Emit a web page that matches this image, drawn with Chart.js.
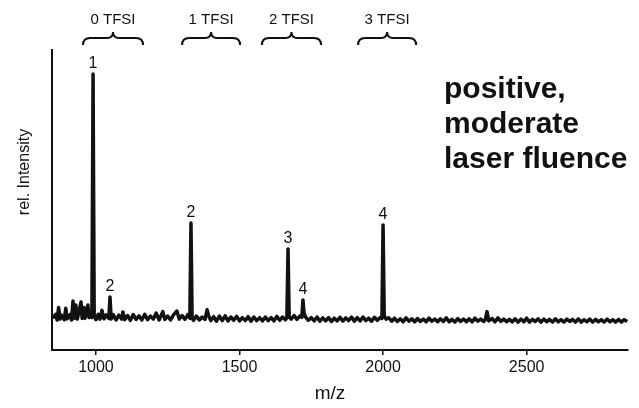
<!DOCTYPE html>
<html lang="en">
<head>
    <meta charset="UTF-8">
    <title>positive, moderate laser fluence</title>
    <script src="https://cdn.jsdelivr.net/npm/chart.js"></script>
    <style>
        body { margin: 0; background: #fff; }
    </style>
</head>
<body>
    <canvas id="msChart" width="639" height="408"></canvas>

    <script>
        // spectrum trace (m/z, rel. intensity)
        const traceMz = [
            850, 860, 865, 870, 875, 880, 890, 895, 900, 910, 915, 920, 925, 930, 935, 940, 948, 952, 958, 962,
            972, 976, 982, 986, 990, 994, 1000, 1008, 1014, 1021, 1028, 1036, 1045, 1049, 1053, 1060, 1070, 1080, 1090, 1094,
            1100, 1110, 1120, 1130, 1140, 1150, 1160, 1170, 1180, 1190, 1200, 1210, 1220, 1233, 1240, 1250, 1260, 1270, 1282, 1290,
            1300, 1310, 1320, 1327, 1331, 1335, 1340, 1350, 1360, 1370, 1380, 1387, 1393, 1400, 1410, 1420, 1430, 1440, 1450, 1460,
            1470, 1480, 1490, 1500, 1510, 1520, 1530, 1540, 1550, 1560, 1570, 1580, 1590, 1600, 1610, 1620, 1630, 1640, 1650, 1660,
            1665, 1669, 1673, 1680, 1690, 1700, 1710, 1717, 1721, 1725, 1730, 1740, 1750, 1760, 1770, 1780, 1790, 1800, 1810, 1820,
            1830, 1840, 1850, 1860, 1870, 1880, 1890, 1900, 1910, 1920, 1930, 1940, 1950, 1960, 1970, 1980, 1990, 1996, 2000, 2004,
            2010, 2020, 2030, 2040, 2050, 2060, 2070, 2080, 2090, 2100, 2110, 2120, 2130, 2140, 2150, 2160, 2170, 2180, 2190, 2200,
            2210, 2220, 2230, 2240, 2250, 2260, 2270, 2280, 2290, 2300, 2310, 2320, 2330, 2340, 2350, 2356, 2362, 2368, 2380, 2390,
            2400, 2410, 2420, 2430, 2440, 2450, 2460, 2470, 2480, 2490, 2500, 2510, 2520, 2530, 2540, 2550, 2560, 2570, 2580, 2590,
            2600, 2610, 2620, 2630, 2640, 2650, 2660, 2670, 2680, 2690, 2700, 2710, 2720, 2730, 2740, 2750, 2760, 2770, 2780, 2790,
            2800, 2810, 2820, 2830, 2840, 2850
        ];
        const traceInt = [
            10.6, 11.9, 10.0, 14.2, 10.3, 11.6, 10.1, 13.9, 10.4, 11.8, 10.0, 16.3, 10.6, 15.0, 10.3, 12.4, 16.0, 10.5, 14.2, 10.6,
            15.0, 10.8, 12.5, 10.8, 92.0, 11.2, 10.1, 11.9, 10.3, 13.2, 10.4, 11.7, 10.5, 17.7, 10.3, 11.8, 10.0, 11.6, 10.3, 12.7,
            10.1, 11.5, 9.9, 11.8, 10.2, 11.4, 10.0, 11.9, 10.1, 11.3, 10.3, 12.3, 10.0, 12.8, 10.2, 11.3, 10.0, 11.7, 13.0, 10.3,
            11.5, 10.2, 11.8, 10.6, 42.3, 10.4, 9.9, 11.3, 10.0, 11.0, 10.2, 13.4, 11.3, 9.8, 11.1, 9.6, 11.3, 9.8, 11.4, 9.7,
            11.0, 9.9, 11.2, 9.7, 10.8, 9.8, 11.1, 9.6, 11.0, 9.8, 10.8, 9.7, 11.0, 9.8, 10.8, 9.7, 11.2, 9.9, 11.0, 10.1,
            10.7, 33.7, 11.0, 10.3, 11.5, 10.2, 11.3, 10.9, 16.7, 12.2, 11.0, 9.9, 10.8, 9.7, 11.0, 9.6, 10.7, 9.7, 10.8, 9.5,
            10.6, 9.7, 10.9, 9.6, 10.7, 9.8, 11.0, 9.6, 10.8, 9.7, 11.0, 9.8, 10.6, 9.6, 10.9, 9.9, 10.8, 10.5, 41.7, 11.6,
            10.3, 10.7, 9.6, 10.6, 9.5, 10.4, 9.4, 10.7, 9.6, 10.4, 9.4, 10.5, 9.5, 10.3, 9.4, 10.6, 9.6, 10.3, 9.4, 10.4,
            9.5, 10.7, 9.4, 10.2, 9.3, 10.5, 9.5, 10.3, 9.4, 10.4, 9.4, 10.6, 9.6, 10.3, 9.5, 10.1, 12.8, 9.7, 10.5, 9.4,
            10.7, 9.5, 10.3, 9.4, 10.2, 9.4, 10.4, 9.3, 10.3, 9.4, 10.6, 9.3, 10.2, 9.5, 10.4, 9.3, 10.3, 9.4, 10.2, 9.3,
            10.4, 9.4, 10.1, 9.3, 10.3, 9.5, 10.2, 9.3, 10.4, 9.3, 10.1, 9.4, 10.3, 9.3, 10.2, 9.4, 10.1, 9.3, 10.3, 9.4,
            10.1, 9.3, 10.2, 9.3, 10.1, 9.5
        ];

        // peak labels
        const peakMz = [990, 1049, 1331, 1669, 1721, 2000];
        const peakTop = [92.0, 17.7, 42.3, 33.7, 16.7, 41.7];
        const peakLabels = ['1', '2', '2', '3', '4', '4'];

        // TFSI groups (brace spans in m/z)
        const braceStart = [955, 1300, 1578, 1913];
        const braceEnd = [1164, 1502, 1784, 2115];
        const braceLabels = ['0 TFSI', '1 TFSI', '2 TFSI', '3 TFSI'];

        const xTicks = [1000, 1500, 2000, 2500];
        const xMin = 847, xMax = 2853;

        const FONT = '"Liberation Sans", Arial, Helvetica, sans-serif';

        const annotations = {
            id: 'annotations',
            afterDraw(chart) {
                const ctx = chart.ctx;
                const x = chart.scales.x, y = chart.scales.y;
                ctx.save();
                ctx.fillStyle = '#111';
                ctx.strokeStyle = '#111';
                ctx.textAlign = 'center';

                // peak numbers
                ctx.font = '16px ' + FONT;
                ctx.textBaseline = 'alphabetic';
                peakMz.forEach((m, i) => {
                    ctx.fillText(peakLabels[i], x.getPixelForValue(m), y.getPixelForValue(peakTop[i]) - 6);
                });

                // braces + labels
                ctx.lineWidth = 2;
                ctx.font = '15px ' + FONT;
                braceStart.forEach((s, i) => {
                    const x0 = x.getPixelForValue(s), x1 = x.getPixelForValue(braceEnd[i]);
                    const xm = (x0 + x1) / 2;
                    const yb = 38, ye = 45, yt = 32;
                    ctx.beginPath();
                    ctx.moveTo(x0, ye);
                    ctx.quadraticCurveTo(x0, yb, x0 + 7, yb);
                    ctx.lineTo(xm - 6, yb);
                    ctx.quadraticCurveTo(xm, yb, xm, yt);
                    ctx.quadraticCurveTo(xm, yb, xm + 6, yb);
                    ctx.lineTo(x1 - 7, yb);
                    ctx.quadraticCurveTo(x1, yb, x1, ye);
                    ctx.stroke();
                    ctx.textBaseline = 'middle';
                    ctx.fillText(braceLabels[i], xm, 20);
                });

                // axis titles
                ctx.font = '16px ' + FONT;
                ctx.textBaseline = 'middle';
                ctx.save();
                ctx.translate(25, 172);
                ctx.rotate(-Math.PI / 2);
                ctx.fillText('rel. Intensity', 0, 0);
                ctx.restore();
                ctx.font = '19px ' + FONT;
                ctx.fillText('m/z', 330, 394);

                // condition text
                ctx.font = 'bold 30px ' + FONT;
                ctx.textAlign = 'left';
                ['positive,', 'moderate', 'laser fluence'].forEach((t, i) => {
                    ctx.fillText(t, 444, 90 + i * 35);
                });
                ctx.restore();
            }
        };

        const ctx = document.getElementById('msChart').getContext('2d');
        new Chart(ctx, {
            type: 'line',
            data: {
                datasets: [{
                    data: traceMz.map((m, i) => ({ x: m, y: traceInt[i] })),
                    borderColor: '#111',
                    borderWidth: 3.5,
                    borderJoinStyle: 'round',
                    pointRadius: 0,
                    tension: 0,
                    fill: false
                }]
            },
            options: {
                responsive: false,
                animation: false,
                devicePixelRatio: 1,
                layout: { padding: { top: 50, right: 11, left: 0, bottom: 0 } },
                plugins: { legend: { display: false }, tooltip: { enabled: false } },
                scales: {
                    x: {
                        type: 'linear',
                        min: xMin,
                        max: xMax,
                        afterBuildTicks: s => { s.ticks = xTicks.map(v => ({ value: v })); },
                        afterFit: s => { s.height = 58; },
                        grid: { drawOnChartArea: false, drawTicks: true, tickLength: 5, color: '#111', lineWidth: 1.5 },
                        border: { display: true, color: '#111', width: 2 },
                        ticks: {
                            color: '#111', font: { family: FONT, size: 16 }, padding: 3, maxRotation: 0,
                            callback: v => String(v)
                        }
                    },
                    y: {
                        min: 0,
                        max: 100,
                        afterFit: s => { s.width = 52; },
                        grid: { display: false },
                        border: { display: true, color: '#111', width: 2 },
                        ticks: { display: false }
                    }
                }
            },
            plugins: [annotations]
        });
    </script>
</body>
</html>
